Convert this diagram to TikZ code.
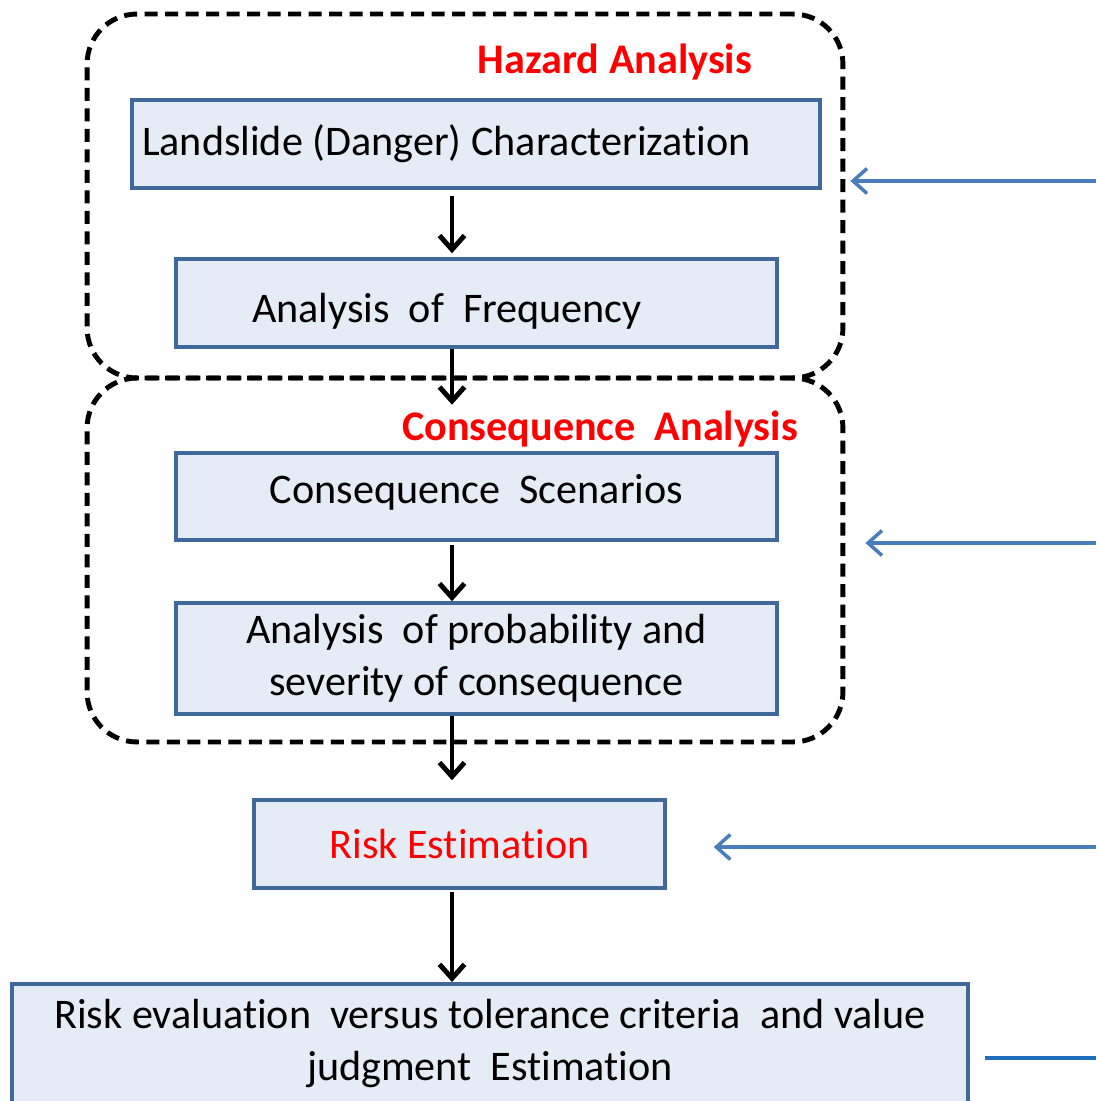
\documentclass[tikz,border=0pt]{standalone}
\usepackage{fontspec}
\setmainfont[Ligatures=NoCommon]{Carlito}
\usepackage{xcolor}
\usetikzlibrary{arrows.meta, positioning, calc}
\definecolor{boxline}{HTML}{41689A}
\definecolor{boxfill}{HTML}{E6ECF5}
\definecolor{feedblue}{HTML}{4A7EBB}
\definecolor{linkblue}{HTML}{1F6FBF}
\definecolor{titlered}{HTML}{FF0000}
\tikzstyle{process} = [rectangle, draw=boxline, fill=boxfill, line width=2pt,
                       text centered, font=\fontsize{24}{29.5}\selectfont]
\tikzstyle{group} = [rectangle, rounded corners=1cm, draw=black, line width=2.8pt,
                     dash pattern=on 0.26cm off 0.15cm, minimum width=15.12cm, minimum height=7.28cm]
\tikzstyle{heading} = [text=titlered, font=\fontsize{24}{28}\selectfont\bfseries]
\tikzstyle{arrow} = [-{Straight Barb[length=2.8mm, width=5mm]}, line width=2.8pt]
\tikzstyle{feed} = [-{Straight Barb[length=2.8mm, width=5mm]}, draw=feedblue, line width=2pt]

\begin{document}
\begin{tikzpicture}[x=0.02cm, y=-0.02cm]
\useasboundingbox (0,0) rectangle (1096,1101);
\coordinate (spine) at (452,0);

% dashed groups
\node[group] (hazard) at (465,196) {};
\node[group] (consequence) at (465,560) {};
\node[heading] (hazardtitle) at (615,62) {Hazard Analysis};
\node[heading] (consequencetitle) at (600,429) {Consequence\ \ Analysis};

% process boxes
\node[process, minimum width=13.76cm, minimum height=1.76cm] (danger) at (476,144)
  {Landslide (Danger) Characterization\hspace*{1.18cm}};
\node[process, minimum width=12.02cm, minimum height=1.76cm] (frequency) at (476.5,303)
  {\raisebox{-0.16cm}[\height][\depth]{Analysis\ \ of\ \ Frequency}\hspace*{1.18cm}};
\node[process, minimum width=12.02cm, minimum height=1.74cm] (scenarios) at (476.5,496.5)
  {\raisebox{0.08cm}[\height][\depth]{Consequence\ \ Scenarios}};
\node[process, minimum width=12.02cm, minimum height=2.22cm, align=center] (severity) at (476.5,658.5)
  {Analysis\ \ of probability and\\severity of consequence};
\node[process, minimum width=8.22cm, minimum height=1.76cm, text=titlered] (estimation) at (459.5,844)
  {Risk Estimation};
\node[process, minimum width=19.12cm, minimum height=2.4cm, align=center, anchor=north] (evaluation) at (490,982)
  {Risk evaluation\ \ versus tolerance criteria\ \ and value\\judgment\ \ Estimation};

% main flow
\draw[arrow, shorten <=0.12cm, shorten >=0.08cm] (danger.south -| spine) -- (frequency.north -| spine);
\draw[arrow] (frequency.south -| spine) -- (consequencetitle.north -| spine);
\draw[arrow, shorten <=0.06cm] (scenarios.south -| spine) -- (severity.north -| spine);
\draw[arrow, shorten >=0.36cm] (severity.south -| spine) -- (estimation.north -| spine);
\draw[arrow, shorten <=0.04cm] (estimation.south -| spine) -- (evaluation.north -| spine);

% inputs from the right
\coordinate (in1) at (1096,181);
\coordinate (in2) at (1096,543);
\coordinate (in3) at (1096,847);
\coordinate (in4) at (1096,1058);
\draw[feed, shorten >=0.1cm] (in1) -- (in1 -| hazard.east);
\draw[feed, shorten >=0.4cm] (in2) -- (in2 -| consequence.east);
\draw[feed, shorten >=0.94cm] (in3) -- (in3 -| estimation.east);
\draw[draw=linkblue, line width=2.2pt, shorten >=0.3cm] (in4) -- (in4 -| evaluation.east);
\end{tikzpicture}
\end{document}
